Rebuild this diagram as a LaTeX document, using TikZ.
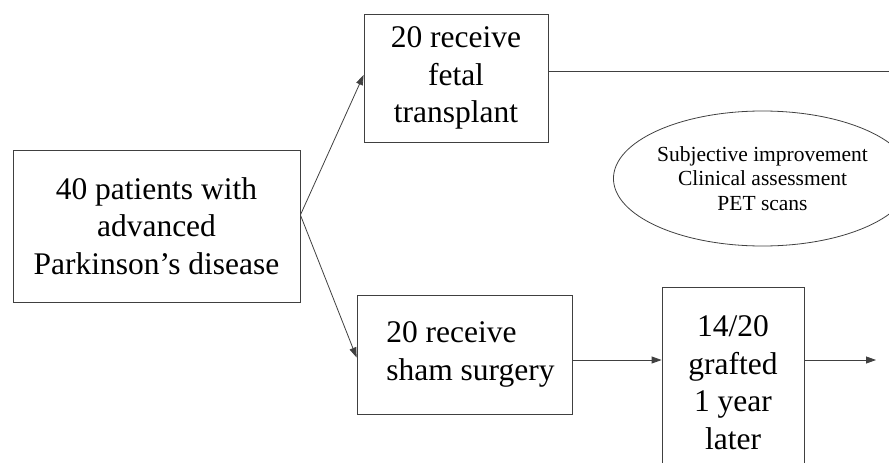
\documentclass[tikz,border=0pt]{standalone}
\usepackage{fontspec}
\setmainfont{Liberation Serif}
\usetikzlibrary{arrows.meta, shapes.geometric, positioning}

\begin{document}
\begin{tikzpicture}[x=1pt, y=-1pt,
    line/.style = {draw=black!75, line width=0.8pt},
    box/.style = {line, rectangle, inner sep=0pt, align=center,
                  font=\fontsize{31.5}{37.5}\selectfont},
    oval/.style = {line, ellipse, inner sep=0pt, align=center,
                   font=\fontsize{21.5}{24.5}\selectfont},
    flow/.style = {line, -{Triangle[length=10pt, width=7pt]}}]
      \useasboundingbox (0,0) rectangle (889,463);
      \clip (0,0) rectangle (889,463);

      \node[box, minimum width=287pt, minimum height=152pt] (patients) at (156.5,226)
        {40 patients with\\advanced\\Parkinson's disease};
      \node[box, minimum width=184pt, minimum height=128pt] (fetal) at (456,78)
        {20 receive\\fetal\\transplant};
      \node[box, align=left, minimum width=215pt, minimum height=119pt] (sham) at (464.5,354.5)
        {\hspace*{12pt}20 receive\\\hspace*{12pt}sham surgery};
      \node[box, minimum width=142pt, minimum height=191pt] (grafted) at (733,382.5)
        {14/20\\grafted\\1 year\\later};
      \node[oval, minimum width=251pt, minimum height=135pt] (measures) at (762.5,178.5)
        {Subjective improvement\\Clinical assessment\\PET scans};

      \coordinate (split) at ([yshift=11pt]patients.east);
      \coordinate (topend) at (889,71);
      \coordinate (row) at (0,360);
      \coordinate (outend) at (876,360);

      \draw[flow] (split) -- ([yshift=3pt]fetal.west);
      \draw[flow] (split) -- ([yshift=-3pt]sham.west);
      \draw[line] (fetal.east |- topend) -- (topend);
      \draw[flow] (sham.east |- row) -- (grafted.west |- row);
      \draw[flow] (grafted.east |- row) -- (outend);
    \end{tikzpicture}
\end{document}
